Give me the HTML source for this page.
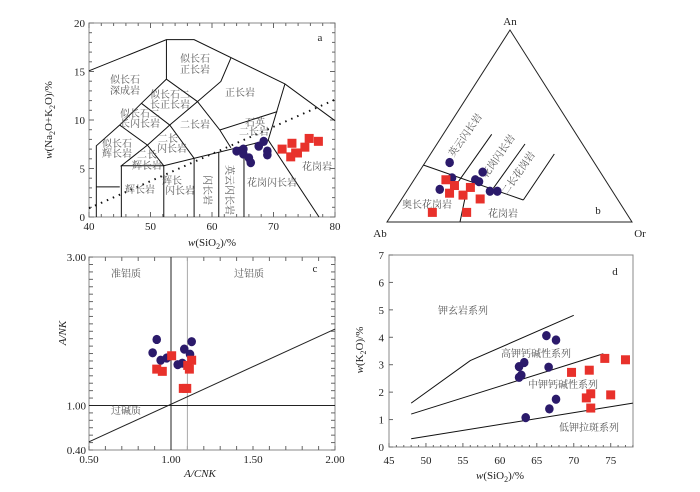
<!DOCTYPE html>
<html><head><meta charset="utf-8"><style>
html,body{margin:0;padding:0;background:#fff}
svg{display:block}
text{font-family:"Liberation Serif","Noto Serif CJK SC","Noto Sans CJK SC",serif}
.cn{font-size:10px;fill:#555}
.tk{font-size:11px;fill:#222}
</style></head><body>
<svg id="s" width="700" height="492" viewBox="0 0 700 492" xmlns="http://www.w3.org/2000/svg"></svg>
<script>
// ===== Panel a data (TAS) =====
const aCircSi=[64.0,65.1,65.1,66.0,66.3,67.6,68.4,69.0,69.0];
const aCircAlk=[6.8,7.0,6.5,6.1,5.6,7.3,7.8,6.8,6.4];
const aSqSi=[71.4,73.0,72.8,73.6,73.9,75.1,75.8,77.3];
const aSqAlk=[7.0,7.6,6.2,6.6,6.6,7.2,8.1,7.8];
const aXTicks=[40,50,60,70,80];
const aYTicks=[0,5,10,15,20];
// ===== Panel b data (An, Or %; Ab = rest) =====
const bCircAn=[31,23,17,26,22,21,16,16];
const bCircOr=[10,15,13,26,25,27,34,37];
const bSqAn=[22,19,15,18,14,12,5,5];
const bSqOr=[13,18,18,25,24,32,30,16];
// ===== Panel c data =====
const cCircX=[0.913,0.888,0.937,0.974,1.041,1.069,1.081,1.126,1.116];
const cCircY=[1.89,1.71,1.61,1.64,1.55,1.57,1.76,1.86,1.69];
const cSqX=[1.004,0.913,0.947,1.102,1.112,1.126,1.075,1.096];
const cSqY=[1.67,1.49,1.46,1.54,1.49,1.61,1.23,1.23];
const cXTicks=["0.50","1.00","1.50","2.00"];
const cYTicks=["3.00","1.00","0.40"];
// ===== Panel d data =====
const dCircSi=[66.3,67.6,63.3,62.6,66.6,62.9,62.6,67.6,66.7,63.5];
const dCircK=[4.06,3.90,3.08,2.93,2.91,2.62,2.54,1.74,1.39,1.07];
const dSqSi=[69.7,72.1,74.2,77.0,72.3,71.7,75.0,72.3];
const dSqK=[2.72,2.80,3.23,3.18,1.94,1.79,1.90,1.42];
const dXTicks=[45,50,55,60,65,70,75];
const dYTicks=[0,1,2,3,4,5,6,7];

const NS="http://www.w3.org/2000/svg";
const svg=document.getElementById('s');
function mk(tag,attrs,parent,txt){const e=document.createElementNS(NS,tag);for(const k in attrs)e.setAttribute(k,attrs[k]);if(txt!==undefined)e.textContent=txt;(parent||svg).appendChild(e);return e;}
function line(x1,y1,x2,y2,p,st){return mk('line',{x1,y1,x2,y2,stroke:st||'#111','stroke-width':1},p);}
function poly(pts,p,extra){const a={points:pts.map(q=>q.join(',')).join(' '),fill:'none',stroke:'#111','stroke-width':1};Object.assign(a,extra||{});return mk('polyline',a,p);}
function circ(x,y,p){const e=mk('ellipse',{cx:x,cy:y,rx:4.3,ry:4.6,fill:'#2b1a6b'},p);return e;}
function sq(x,y,p){return mk('rect',{x:x-4.5,y:y-4.5,width:9,height:9,fill:'#e8312b'},p);}
function txt(x,y,s,cls,p,extra){const a={x,y,class:cls,'text-anchor':'middle'};Object.assign(a,extra||{});return mk('text',a,p,s);}

// ================= Panel a =================
const ga=mk('g',{});  
const ax=v=>89+(v-40)*6.15, ay=v=>217-v*9.7;
mk('rect',{x:89,y:23,width:246,height:194,fill:'none',stroke:'#888','stroke-width':1},ga);
for(let v=40;v<=80;v+=2){line(ax(v),217,ax(v),v%10?214:212,ga,'#666');line(ax(v),23,ax(v),v%10?26:28,ga,'#666');}
for(let v=0;v<=20;v+=1){line(89,ay(v),v%5?92:94,ay(v),ga,'#666');line(335,ay(v),v%5?332:330,ay(v),ga,'#666');}
aXTicks.forEach(v=>{const t=txt(ax(v),230,v,'tk',ga);});
aYTicks.forEach(v=>{const t=txt(85,ay(v)+4,v,'tk',ga,{'text-anchor':'end'});});
const P=(x,y)=>[ax(x),ay(y)];
const bnd=[
 [[40,15.07],[52.59,18.28],[57.09,18.28],[71.86,13.72],[80,9.93]],
 [[52.59,18.28],[52.59,14.21]],
 [[52.59,14.21],[57.64,11.9],[61.44,13.97],[63.07,16.38]],
 [[52.59,14.21],[48.52,11.72],[44.99,9.48],[41.19,7.34],[41.19,0]],
 [[48.52,11.72],[53.13,9.48],[49.5,7.41],[45.26,5.28],[52.16,5.28],[69.14,7.93],[71.86,13.72]],
 [[44.99,9.48],[49.5,7.41],[52.16,5.28],[52.16,0]],
 [[53.13,9.48],[57.64,11.9],[61.27,8.97],[63.07,7.14]],
 [[53.13,9.48],[57.09,6.05],[57.09,0]],
 [[61.27,8.97],[70.6,10.86]],
 [[45.26,5.28],[45.26,0]],
 [[41.19,3.1],[45.0,3.1]],
 [[61.1,6.68],[61.1,0]],
 [[65.2,7.32],[65.2,0]],
 [[69.14,7.93],[77.4,0]]
];
bnd.forEach(b=>{const e=poly(b.map(q=>P(q[0],q[1])),ga);});
const dl=line(ax(40),ay(0.9),ax(80),ay(12.1),ga);dl.setAttribute('stroke-dasharray','1.5 5');dl.setAttribute('stroke-width','2');
const aLab=[["似长石",195,62],["正长岩",195,73],["似长石",125,83],["深成岩",125,94],["似长石二",170,98],["长正长岩",170,108],["似长石二",140,117],["长闪长岩",140,127],["似长石",117,147],["辉长岩",117,157],["二长岩",195,128],["正长岩",240,96],["石英",255,126],["二长岩",254,135],["二长",168,142],["闪长岩",172,152],["二长",147,158],["辉长岩",147,169],["辉长岩",140,193],["辉长",172,184],["闪长岩",180,194],["花岗闪长岩",272,186],["花岗岩",317,170]];
aLab.forEach(l=>{const t=txt(l[1],l[2],l[0],'cn',ga);});
[["闪长岩",207,190],["英云闪长岩",229,190]].forEach(l=>{const t=txt(l[1],l[2],l[0],'cn',ga,{transform:`rotate(90 ${l[1]} ${l[2]})`,dy:'3'});});
aCircSi.forEach((v,i)=>{const e=circ(ax(v),ay(aCircAlk[i]),ga);});
aSqSi.forEach((v,i)=>{const e=sq(ax(v),ay(aSqAlk[i]),ga);});
{const t=txt(320,41,'a','tk',ga,{'font-size':'13'});}
{const t=mk('text',{x:212,y:246,'text-anchor':'middle',class:'tk','font-size':'13'},ga);t.innerHTML='<tspan font-style="italic">w</tspan>(SiO<tspan font-size="8" dy="3">2</tspan><tspan dy="-3">)/%</tspan>';}
{const t=mk('text',{x:0,y:0,'text-anchor':'middle',class:'tk','font-size':'13',transform:'translate(52,120) rotate(-90)'},ga);t.innerHTML='<tspan font-style="italic">w</tspan>(Na<tspan font-size="8" dy="3">2</tspan><tspan dy="-3">O+K</tspan><tspan font-size="8" dy="3">2</tspan><tspan dy="-3">O)/%</tspan>';}

// ================= Panel b =================
const gb=mk('g',{});  
const An=[510,30],Ab=[387,222],Or=[632,222];
const tern=(an,or)=>{const a=an/100,o=or/100;return [387+o*245+a*123,222-a*192];};
{const e=mk('polygon',{points:`${An} ${Ab} ${Or}`,fill:'none',stroke:'#222','stroke-width':1},gb);}
[[[423.3,165],[523.3,200]],[[466.7,190],[460,222]],[[458.3,181.7],[491.7,134.3]],[[493.3,188.3],[525,144]],[[523.3,200],[554.3,154]]].forEach(b=>{const e=poly(b,gb);});
[["An",510,25],["Ab",380,237],["Or",640,237]].forEach(l=>{const t=txt(l[1],l[2],l[0],'tk',gb,{'font-size':'13'});});
[["英云闪长岩",468,137],["花岗闪长岩",501,158],["二长花岗岩",521,175]].forEach(l=>{const t=txt(l[1],l[2],l[0],'cn',gb,{transform:`rotate(-55 ${l[1]} ${l[2]})`});});
[["奥长花岗岩",427,208],["花岗岩",503,217]].forEach(l=>{const t=txt(l[1],l[2],l[0],'cn',gb);});
{const t=txt(598,214,'b','tk',gb,{'font-size':'13'});}
bCircAn.forEach((v,i)=>{const p=tern(v,bCircOr[i]);const e=circ(p[0],p[1],gb);});
bSqAn.forEach((v,i)=>{const p=tern(v,bSqOr[i]);const e=sq(p[0],p[1],gb);});

// ================= Panel c =================
const gc=mk('g',{});  
const cx=v=>89+(v-0.5)*164, cy=v=>450-(v-0.4)*74.2;
mk('rect',{x:89,y:257,width:246,height:193,fill:'none',stroke:'#888','stroke-width':1},gc);
for(let v=0.5;v<=2.001;v+=0.1){line(cx(v),450,cx(v),446,gc,'#666');line(cx(v),257,cx(v),261,gc,'#666');}
for(let v=0.4;v<=3.001;v+=0.1){line(89,cy(v),93,cy(v),gc,'#666');line(335,cy(v),331,cy(v),gc,'#666');}
cXTicks.forEach(s=>{const t=txt(cx(+s),463,s,'tk',gc);});
cYTicks.forEach(s=>{const t=txt(86,cy(+s)+4,s,'tk',gc,{'text-anchor':'end'});});
{const e=line(cx(1.1),257,cx(1.1),450,gc,'#aaa');}
{const e=line(cx(1),257,cx(1),450,gc,'#222');}
{const e=line(89,cy(1),335,cy(1),gc,'#222');}
{const e=line(cx(0.5),cy(0.51),cx(2),cy(2.03),gc,'#222');}
[["准铝质",126,277],["过铝质",249,277],["过碱质",126,414]].forEach(l=>{const t=txt(l[1],l[2],l[0],'cn',gc);});
{const t=txt(315,272,'c','tk',gc,{'font-size':'13'});}
cCircX.forEach((v,i)=>{const e=circ(cx(v),cy(cCircY[i]),gc);});
cSqX.forEach((v,i)=>{const e=sq(cx(v),cy(cSqY[i]),gc);});
{const t=txt(200,477,'A/CNK','tk',gc,{'font-size':'13','font-style':'italic'});}
{const t=txt(0,0,'A/NK','tk',gc,{'font-size':'13','font-style':'italic',transform:'translate(66,333) rotate(-90)'});}

// ================= Panel d =================
const gd=mk('g',{});  
const dx=v=>389+(v-45)*7.39, dy=v=>447-v*27.43;
mk('rect',{x:389,y:255,width:244,height:192,fill:'none',stroke:'#888','stroke-width':1},gd);
for(let v=45;v<=78;v+=1){line(dx(v),447,dx(v),v%5?445:443,gd,'#666');}
for(let v=0;v<=7;v+=1){line(389,dy(v),393,dy(v),gd,'#666');}
dXTicks.forEach(v=>{const t=txt(dx(v),464,v,'tk',gd);});
dYTicks.forEach(v=>{const t=txt(384,dy(v)+4,v,'tk',gd,{'text-anchor':'end'});});
[[[48,1.6],[56,3.15],[70,4.8]],[[48,1.2],[74,3.4]],[[48,0.3],[78,1.6]]].forEach(b=>{const e=poly(b.map(q=>[dx(q[0]),dy(q[1])]),gd);});
[["钾玄岩系列",463,314],["高钾钙碱性系列",536,357],["中钾钙碱性系列",563,388],["低钾拉斑系列",589,431]].forEach(l=>{const t=txt(l[1],l[2],l[0],'cn',gd);});
{const t=txt(615,275,'d','tk',gd,{'font-size':'13'});}
dCircSi.forEach((v,i)=>{const e=circ(dx(v),dy(dCircK[i]),gd);});
dSqSi.forEach((v,i)=>{const e=sq(dx(v),dy(dSqK[i]),gd);});
{const t=mk('text',{x:500,y:479,'text-anchor':'middle',class:'tk','font-size':'13'},gd);t.innerHTML='<tspan font-style="italic">w</tspan>(SiO<tspan font-size="8" dy="3">2</tspan><tspan dy="-3">)/%</tspan>';}
{const t=mk('text',{x:0,y:0,'text-anchor':'middle',class:'tk','font-size':'13',transform:'translate(363,350) rotate(-90)'},gd);t.innerHTML='<tspan font-style="italic">w</tspan>(K<tspan font-size="8" dy="3">2</tspan><tspan dy="-3">O)/%</tspan>';}
</script>
</body></html>
